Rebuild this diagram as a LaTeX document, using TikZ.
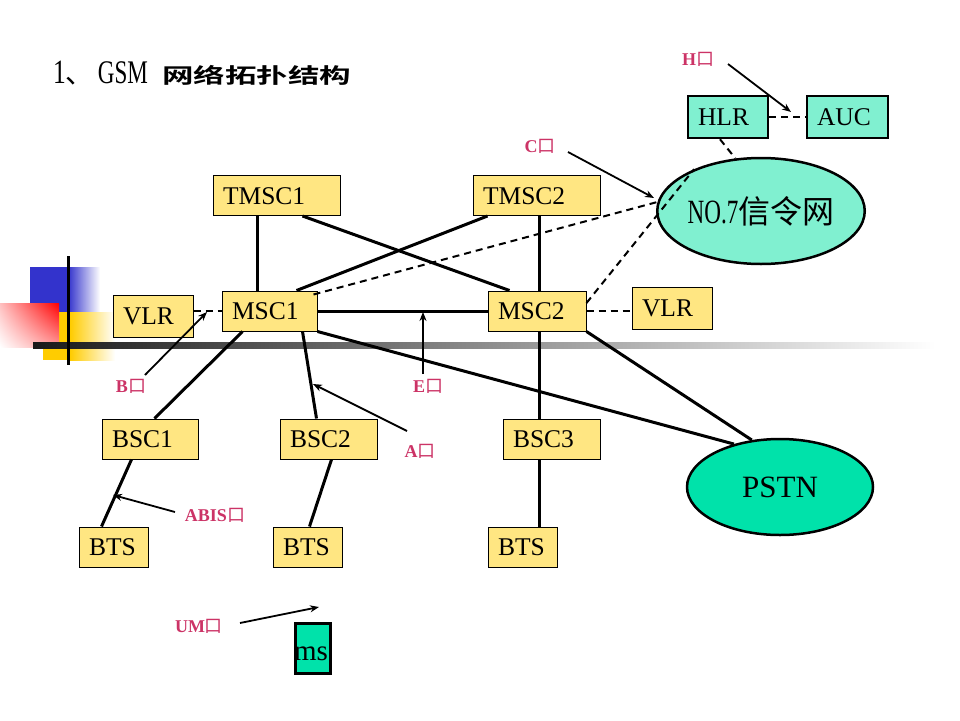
\documentclass[tikz,border=0pt]{standalone}
\usepackage{fontspec}
\usepackage{graphicx}
\setmainfont{Liberation Serif}
\newfontfamily\cjk{Noto Sans CJK SC}
\newfontfamily\cjkbold{Noto Sans CJK SC Bold}
\usetikzlibrary{shapes.geometric,arrows.meta,shadings}
\definecolor{boxy}{RGB}{255,230,130}
\definecolor{aqua}{RGB}{128,240,208}
\definecolor{sea}{RGB}{0,226,170}
\definecolor{labc}{RGB}{204,51,102}
\definecolor{bluedeco}{RGB}{51,51,204}
\definecolor{yeldeco}{RGB}{255,204,0}
\definecolor{reddeco}{RGB}{255,0,0}
\newcommand\kou{{\cjk\mdseries 口}}
\tikzset{
  box/.style={draw=black, line width=1pt, fill=boxy, inner xsep=10pt, inner ysep=0pt,
    minimum height=40pt, text height=17pt, text depth=0pt, align=left,
    font=\fontsize{25.5}{25.5}\selectfont},
  tbox/.style={box, fill=aqua, line width=2.5pt, minimum height=42pt},
  conn/.style={line width=3pt},
  sig/.style={line width=2pt, dash pattern=on 7pt off 5pt},
  arr/.style={line width=1.8pt, -{Stealth[length=9pt,width=7pt]}},
  lab/.style={text=labc, font=\fontsize{18}{18}\selectfont\bfseries, inner sep=0pt},
}
\begin{document}
\begin{tikzpicture}[x=1pt,y=-1pt]
\useasboundingbox[fill=white] (0,0) rectangle (960,720);
% decoration
\fill[bluedeco] (30,267) rectangle (68,312);
\shade[left color=bluedeco, right color=white] (68,267) rectangle (100,312);
\fill[yeldeco] (43,312) rectangle (70,360);
\shade[left color=yeldeco, right color=white] (70,312) rectangle (115,360);
\shade[upper right=reddeco, upper left=reddeco!25, lower right=reddeco!40, lower left=white] (0,303) rectangle (59,347);
\shade[left color=black!90, right color=white] (33,342) rectangle (935,348);
\draw[line width=3pt] (68,256) -- (68,365);
% title
\node[anchor=base west, inner sep=0pt] (t1) at (53,83) {\scalebox{0.75}[1]{\fontsize{34}{34}\selectfont 1}\makebox[32pt][l]{\cjk\fontsize{28}{28}\selectfont 、}\scalebox{0.7}[1]{\fontsize{33}{33}\selectfont GSM}};
\node[anchor=base west, inner sep=0pt] (t3) at (162,83) {\scalebox{1.5}[1]{\cjkbold\fontsize{21}{21}\selectfont 网络拓扑结构}};
% nodes
\node[box, text width=107pt] (TMSC1) at (276.5,195.5) {TMSC1};
\node[box, text width=107pt] (TMSC2) at (536.5,195.5) {TMSC2};
\node[box, text width=75pt] (MSC1) at (269.5,311) {MSC1};
\node[box, text width=78pt] (MSC2) at (537,311) {MSC2};
\node[box, text width=60pt, minimum height=42pt] (VLRL) at (153,316) {VLR};
\node[box, text width=60pt, minimum height=42pt] (VLRR) at (672,308) {VLR};
\node[box, text width=76pt] (BSC1) at (150,439) {BSC1};
\node[box, text width=77pt] (BSC2) at (328.5,439) {BSC2};
\node[box, text width=77pt] (BSC3) at (551.5,439) {BSC3};
\node[box, text width=49pt] (BTS1) at (113.5,547) {BTS};
\node[box, text width=49pt] (BTS2) at (307.5,547) {BTS};
\node[box, text width=49pt] (BTS3) at (522.5,547) {BTS};
\node[tbox, text width=60pt] (HLR) at (728,117) {HLR};
\node[tbox, text width=61pt] (AUC) at (847.5,117) {AUC};
\node[ellipse, draw, line width=2.5pt, fill=aqua, minimum width=192pt, minimum height=106pt, inner sep=0pt] (NO7) at (761,211)
  {\scalebox{0.68}[1]{\fontsize{34}{34}\selectfont NO.7}{\cjk\fontsize{32}{32}\selectfont 信令网}};
\node[ellipse, draw, line width=2.5pt, fill=sea, minimum width=186pt, minimum height=96pt, inner sep=0pt,
  font=\fontsize{31}{31}\selectfont] (PSTN) at (780,487) {PSTN};
\node[draw, line width=3pt, fill=sea, minimum width=35pt, minimum height=50pt, inner sep=0pt] (ms) at (312.5,648) {};
\node[inner sep=0pt, anchor=base, font=\fontsize{29}{29}\selectfont] (mst) at (311,660) {ms};
% solid connectors
\draw[conn] ([xshift=45pt]TMSC1.south west) -- ([xshift=36pt]MSC1.north west);
\draw[conn] ([xshift=90pt]TMSC1.south west) -- ([xshift=22pt]MSC2.north west);
\draw[conn] ([xshift=15pt]TMSC2.south west) -- ([xshift=75pt]MSC1.north west);
\draw[conn] ([xshift=67pt]TMSC2.south west) -- ([xshift=52pt]MSC2.north west);
\draw[conn] (MSC1.east) -- (MSC2.west);
\draw[conn] ([xshift=21pt]MSC1.south west) -- ([xshift=53pt]BSC1.north west);
\draw[conn] ([xshift=81pt]MSC1.south west) -- ([xshift=37pt]BSC2.north west);
\draw[conn] (MSC1.south east) -- (PSTN.137);
\draw[conn] (MSC2.south east) -- (PSTN.121);
\draw[conn] ([xshift=52pt]MSC2.south west) -- ([xshift=37pt]BSC3.north west);
\draw[conn] ([xshift=30pt]BSC1.south west) -- ([xshift=23pt]BTS1.north west);
\draw[conn] ([xshift=52pt]BSC2.south west) -- ([xshift=37pt]BTS2.north west);
\draw[conn] ([xshift=37pt]BSC3.south west) -- ([xshift=52pt]BTS3.north west);
% signalling (dashed)
\draw[sig] (VLRL.east |- MSC1.west) -- (MSC1.west);
\draw[sig] ([xshift=-4pt,yshift=-4pt]MSC1.north east) -- (NO7.175);
\draw[sig] ([yshift=8pt]MSC2.east) -- (NO7.148);
\draw[sig] (MSC2.east) -- (MSC2.east -| VLRR.west);
\draw[sig] ([xshift=-8pt]HLR.south) -- (NO7.116);
\draw[sig] (HLR.east) -- (AUC.west);
% interface labels
\node[lab] (Hl) at (698,59) {H\kou};
\node[lab] (Cl) at (540,146) {C\kou};
\node[lab] (Bl) at (131,386) {B\kou};
\node[lab] (El) at (428,386) {E\kou};
\node[lab] (Al) at (420,451) {A\kou};
\node[lab] (ABl) at (215,515) {ABIS\kou};
\node[lab] (UMl) at (199,626) {UM\kou};
\coordinate (Hs) at (728,64);  \coordinate (He) at (791,112);
\coordinate (Cs) at (568,152); \coordinate (Ce) at (654,198);
\coordinate (Bs) at (145,375); \coordinate (Be) at (207,312);
\coordinate (Es) at (423,374); \coordinate (Ee) at (423,312);
\coordinate (As) at (407,431); \coordinate (Ae) at (313,384);
\coordinate (ABs) at (175,512); \coordinate (ABe) at (113,495);
\coordinate (UMs) at (240,623); \coordinate (UMe) at (319,607);
\draw[arr] (Hs) -- (He);
\draw[arr] (Cs) -- (Ce);
\draw[arr] (Bs) -- (Be);
\draw[arr] (Es) -- (Ee);
\draw[arr] (As) -- (Ae);
\draw[arr] (ABs) -- (ABe);
\draw[arr] (UMs) -- (UMe);
\end{tikzpicture}
\end{document}
